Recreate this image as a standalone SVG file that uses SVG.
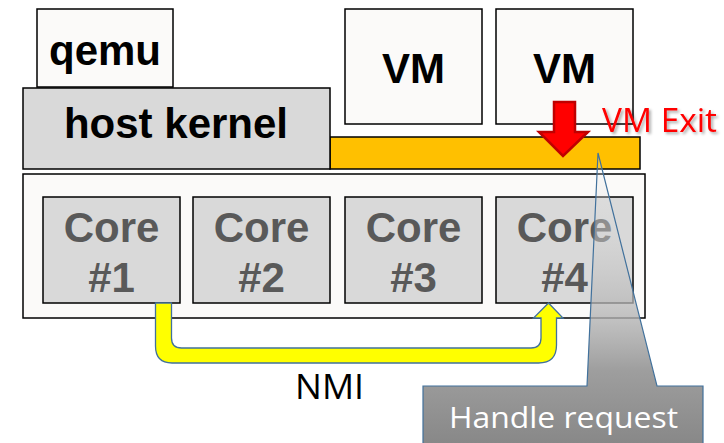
<svg xmlns="http://www.w3.org/2000/svg" width="724" height="443" viewBox="0 0 724 443">
<defs>
<style>
.box{fill:#FBFAF9;stroke:#000;stroke-width:1.5}
.gray{fill:#D9D9D9;stroke:#000;stroke-width:1.5}
.core{fill:#D9D9D9;stroke:#000;stroke-width:1.5}
.bt{font-family:"Liberation Sans",Arial,sans-serif;font-weight:bold;font-size:42px;fill:#000;text-anchor:middle}
.ct{font-family:"Liberation Sans",Arial,sans-serif;font-weight:bold;font-size:42px;fill:#595959;text-anchor:middle}
.lt{font-family:"Open Sans","Noto Sans",sans-serif}
</style>
<linearGradient id="cg" gradientUnits="userSpaceOnUse" x1="0" y1="153" x2="0" y2="443">
<stop offset="0" stop-color="#F2F2F2" stop-opacity="0.15"/>
<stop offset="0.75" stop-color="#9E9E9E" stop-opacity="1"/>
<stop offset="1" stop-color="#888888" stop-opacity="1"/>
</linearGradient>
<filter id="sh" x="-10%" y="-20%" width="130%" height="160%">
<feGaussianBlur in="SourceAlpha" stdDeviation="1.5"/>
<feOffset dx="2" dy="2" result="b"/>
<feComponentTransfer><feFuncA type="linear" slope="0.35"/></feComponentTransfer>
<feMerge><feMergeNode/><feMergeNode in="SourceGraphic"/></feMerge>
</filter>
</defs>
<rect width="724" height="443" fill="#fff"/>

<g id="orange-bar"><rect x="330" y="137" width="310" height="32" fill="#FFC000" stroke="#000" stroke-width="1.5"/></g>
<g id="qemu"><rect class="box" x="37" y="9" width="136" height="78"/><text class="bt" x="105" y="65">qemu</text></g>
<g id="host-kernel"><rect class="gray" x="23" y="88" width="307" height="81"/><text class="bt" x="176" y="138">host kernel</text></g>
<g id="vm1"><rect class="box" x="345" y="9" width="137" height="115"/><text class="bt" x="413.5" y="83">VM</text></g>
<g id="vm2"><rect class="box" x="496" y="9" width="137" height="115"/><text class="bt" x="564.5" y="83">VM</text></g>

<g id="cpu"><rect class="box" x="23" y="174" width="622" height="144"/></g>
<g id="core1"><rect class="core" x="43" y="197" width="137" height="106"/><text class="ct" x="111.5" y="242">Core</text><text class="ct" x="111.5" y="292">#1</text></g>
<g id="core2"><rect class="core" x="193" y="197" width="137" height="106"/><text class="ct" x="261.5" y="242">Core</text><text class="ct" x="261.5" y="292">#2</text></g>
<g id="core3"><rect class="core" x="345" y="197" width="137" height="106"/><text class="ct" x="413.5" y="242">Core</text><text class="ct" x="413.5" y="292">#3</text></g>
<g id="core4"><rect class="core" x="496" y="197" width="137" height="106"/><text class="ct" x="564.5" y="242">Core</text><text class="ct" x="564.5" y="292">#4</text></g>

<g id="connectors">
<path d="M155.5,303 L171.5,303 L171.5,338 Q171.5,348 181.5,348 L531,348 Q541,348 541,338 L541,318 L533.5,318 L548.5,303 L563,318 L556.5,318 L556.5,345 Q556.5,363 538.5,363 L172,363 Q155.5,363 155.5,346 Z" fill="#FFFF00" stroke="#41719C" stroke-width="1.3"/>
<path d="M554,102 L575,102 L575,132 L588,132 L563,156 L539,132 L554,132 Z" fill="#FF0000" stroke="#C00000" stroke-width="2.5" stroke-linejoin="miter"/>
</g>
<text class="lt" x="602" y="132" font-size="32" textLength="115" lengthAdjust="spacingAndGlyphs" fill="#FF0000" filter="url(#sh)">VM Exit</text>
<text class="lt" x="295" y="399" font-size="35" textLength="69" lengthAdjust="spacingAndGlyphs" fill="#000">NMI</text>

<g id="callout">
<path d="M423,386 L587,386 L598,153 L657,386 L703,386 L703,450 L423,450 Z" fill="url(#cg)" stroke="#41719C" stroke-width="1.2"/>
<text class="lt" x="449" y="428" font-size="30" textLength="229" lengthAdjust="spacingAndGlyphs" fill="#fff">Handle request</text>
</g>
</svg>
